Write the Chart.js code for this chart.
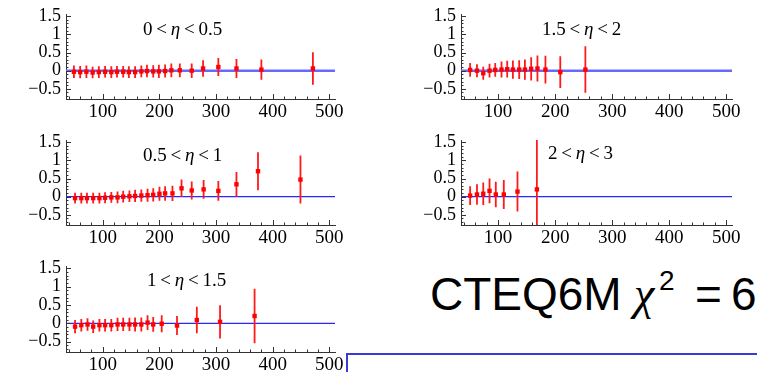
<!DOCTYPE html>
<html lang="en">
<head>
<meta charset="UTF-8" />
<title>Data / theory in rapidity bins, CTEQ6M</title>
<script src="https://cdn.jsdelivr.net/npm/chart.js@4.4.0/dist/chart.umd.min.js"></script>
<style>
  body {
    margin: 0;
    width: 757px;
    height: 372px;
    overflow: hidden;
    background: #fff;
    position: relative;
    font-family: "Liberation Serif", serif;
  }
  .panel { position: absolute; }
  .tag {
    position: absolute;
    font-size: 19px;
    line-height: 19px;
    color: #000;
    white-space: nowrap;
  }
  .big {
    position: absolute;
    top: 271px;
    font-family: "Liberation Sans", Arial, sans-serif;
    font-size: 46px;
    line-height: 46px;
    white-space: nowrap;
    color: #000;
  }
  .rule { position: absolute; background: #3a3ad8; z-index: 2; }
</style>
</head>
<body>
<canvas class="panel" id="c1" width="360" height="122" style="left:0;top:0"></canvas>
<canvas class="panel" id="c2" width="362" height="122" style="left:395px;top:0"></canvas>
<canvas class="panel" id="c3" width="360" height="122" style="left:0;top:126px"></canvas>
<canvas class="panel" id="c4" width="362" height="122" style="left:395px;top:126px"></canvas>
<canvas class="panel" id="c5" width="360" height="120" style="left:0;top:252px"></canvas>

<div class="tag" style="left:143px;top:19px">0&thinsp;&lt;&thinsp;<i>η</i>&thinsp;&lt;&thinsp;0.5</div>
<div class="tag" style="left:542px;top:19px">1.5&thinsp;&lt;&thinsp;<i>η</i>&thinsp;&lt;&thinsp;2</div>
<div class="tag" style="left:143px;top:145px">0.5&thinsp;&lt;&thinsp;<i>η</i>&thinsp;&lt;&thinsp;1</div>
<div class="tag" style="left:548px;top:143px">2&thinsp;&lt;&thinsp;<i>η</i>&thinsp;&lt;&thinsp;3</div>
<div class="tag" style="left:147px;top:270px">1&thinsp;&lt;&thinsp;<i>η</i>&thinsp;&lt;&thinsp;1.5</div>

<div class="big" style="left:430px">CTEQ6M</div>
<div class="big" style="left:634px;font-family:'Liberation Serif',serif;font-style:italic">χ</div>
<div class="big" style="left:659px;top:267px;font-size:28px;line-height:28px">2</div>
<div class="big" style="left:695px">=</div>
<div class="big" style="left:731px">6</div>
<div class="rule" style="left:346px;top:353px;width:411px;height:2px"></div>
<div class="rule" style="left:346px;top:353px;width:2px;height:19px"></div>

<script>
// axis ranges and tick labels
const xMin = 35, xMax = 510;
const yMin = -0.78, yMax = 1.56;
const xTicks = [100, 200, 300, 400, 500];
const yTicks = [-0.5, 0, 0.5, 1, 1.5];

// 0 < eta < 0.5
const pt1 = [49, 60, 71, 82, 93, 104, 115, 125, 136, 146, 157, 168, 178, 189, 199, 210, 221, 236, 257, 277, 304, 336, 380, 471];
const ratio1 = [-0.03, -0.04, -0.03, -0.05, -0.04, -0.03, -0.04, -0.03, -0.03, -0.04, -0.04, -0.02, -0.01, -0.02, -0.02, -0.01, 0.01, 0.01, 0.0, 0.06, 0.1, 0.06, 0.03, 0.06];
const err1 = [0.17, 0.17, 0.17, 0.16, 0.16, 0.16, 0.16, 0.16, 0.16, 0.16, 0.16, 0.16, 0.17, 0.17, 0.18, 0.18, 0.19, 0.19, 0.2, 0.23, 0.25, 0.26, 0.28, 0.45];

// 1.5 < eta < 2
const pt2 = [51, 63, 74, 85, 95, 106, 116, 126, 137, 147, 158, 169, 183, 209, 253];
const ratio2 = [0.02, 0.0, -0.07, 0.0, 0.02, 0.03, 0.04, 0.03, 0.03, 0.03, 0.05, 0.06, 0.03, -0.04, 0.03];
const err2 = [0.19, 0.18, 0.18, 0.19, 0.19, 0.22, 0.23, 0.25, 0.26, 0.28, 0.32, 0.36, 0.38, 0.44, 0.64];

// 0.5 < eta < 1
const pt3 = [51, 62, 72, 83, 94, 104, 115, 126, 136, 147, 157, 168, 179, 189, 200, 210, 223, 239, 257, 278, 304, 336, 374, 449];
const ratio3 = [-0.04, -0.04, -0.04, -0.04, -0.04, -0.03, -0.02, -0.02, 0.0, 0.01, 0.02, 0.03, 0.04, 0.05, 0.08, 0.09, 0.09, 0.23, 0.17, 0.2, 0.16, 0.34, 0.7, 0.47];
const err3 = [0.15, 0.15, 0.15, 0.15, 0.15, 0.15, 0.15, 0.16, 0.16, 0.16, 0.17, 0.17, 0.18, 0.18, 0.19, 0.2, 0.21, 0.24, 0.25, 0.26, 0.27, 0.34, 0.52, 0.66];

// 2 < eta < 3
const pt4 = [51, 63, 74, 85, 96, 110, 134, 168];
const ratio4 = [0.03, 0.06, 0.08, 0.16, 0.06, 0.06, 0.14, 0.2];
const err4 = [0.26, 0.28, 0.31, 0.34, 0.35, 0.4, 0.55, 1.4];

// 1 < eta < 1.5
const pt5 = [51, 62, 73, 83, 94, 104, 115, 126, 136, 147, 157, 168, 179, 189, 204, 231, 266, 307, 368];
const ratio5 = [-0.09, -0.05, -0.03, -0.09, -0.05, -0.05, -0.05, -0.03, -0.03, -0.03, -0.03, -0.03, 0.02, -0.03, -0.01, -0.06, 0.09, 0.04, 0.2];
const err5 = [0.18, 0.17, 0.17, 0.17, 0.17, 0.17, 0.17, 0.18, 0.18, 0.18, 0.19, 0.19, 0.2, 0.2, 0.23, 0.26, 0.36, 0.45, 0.74];

// vertical error bars, drawn just before the points (so above the zero line)
const errorBars = {
  id: "errorBars",
  beforeDatasetDraw(chart, args) {
    const ds = chart.data.datasets[args.index];
    if (!ds.errors) return;
    const { ctx, chartArea: a, scales: { x, y } } = chart;
    ctx.save();
    ctx.beginPath();
    ctx.rect(a.left, a.top, a.right - a.left, a.bottom - a.top);
    ctx.clip();
    ctx.strokeStyle = "#ff1a1a";
    ctx.lineWidth = 1.8;
    ctx.beginPath();
    ds.data.forEach((p, i) => {
      const px = x.getPixelForValue(p.x);
      ctx.moveTo(px, y.getPixelForValue(p.y - ds.errors[i]));
      ctx.lineTo(px, y.getPixelForValue(p.y + ds.errors[i]));
    });
    ctx.stroke();
    ctx.restore();
  }
};

// small inward ticks like the original frame
const frameTicks = {
  id: "frameTicks",
  afterDraw(chart) {
    const { ctx, chartArea: a, scales: { x, y } } = chart;
    ctx.save();
    ctx.strokeStyle = "#333";
    ctx.lineWidth = 1;
    ctx.beginPath();
    for (let k = -7; k <= 15; k++) {
      const yy = Math.round(y.getPixelForValue(k / 10)) + 0.5;
      const len = k % 5 === 0 ? 5 : 2.5;
      ctx.moveTo(a.left, yy);
      ctx.lineTo(a.left + len, yy);
    }
    for (let v = 40; v <= 500; v += 20) {
      const xx = Math.round(x.getPixelForValue(v)) + 0.5;
      const len = v % 100 === 0 ? 5 : 2.5;
      ctx.moveTo(xx, a.bottom);
      ctx.lineTo(xx, a.bottom - len);
    }
    ctx.stroke();
    ctx.restore();
  }
};

const tickFont = { family: "Liberation Serif", size: 18, lineHeight: 1 };

function makePanel(id, pt, ratio, err, line, pad) {
  new Chart(document.getElementById(id), {
    type: "scatter",
    data: {
      datasets: [
        {
          type: "line",
          data: [{ x: xMin, y: 0 }, { x: xMax, y: 0 }],
          borderColor: line.color,
          borderWidth: line.width,
          pointRadius: 0,
          order: 2
        },
        {
          data: pt.map((v, i) => ({ x: v, y: ratio[i] })),
          errors: err,
          backgroundColor: "#ff0000",
          borderWidth: 0,
          pointStyle: "rect",
          pointRadius: 3.1,
          order: 1
        }
      ]
    },
    options: {
      responsive: false,
      animation: false,
      layout: { padding: { top: pad.top, right: pad.right, left: 0, bottom: 0 } },
      plugins: { legend: { display: false }, tooltip: { enabled: false } },
      scales: {
        x: {
          type: "linear",
          min: xMin,
          max: xMax,
          afterBuildTicks: (s) => { s.ticks = xTicks.map((v) => ({ value: v })); },
          afterFit: (s) => { s.height = pad.bottom; },
          ticks: { color: "#000", font: { family: "Liberation Serif", size: 19 }, padding: 2, autoSkip: false, maxRotation: 0 },
          grid: { display: true, drawOnChartArea: false, drawTicks: false },
          border: { display: true, color: "#333", width: 1 }
        },
        y: {
          min: yMin,
          max: yMax,
          afterBuildTicks: (s) => { s.ticks = yTicks.map((v) => ({ value: v })); },
          afterFit: (s) => { s.width = 66; },
          ticks: {
            color: "#000",
            font: tickFont,
            padding: 5,
            autoSkip: false,
            callback: (v) => (v < 0 ? "\u2212" + Math.abs(v) : String(v))
          },
          grid: { display: true, drawOnChartArea: false, drawTicks: false },
          border: { display: true, color: "#333", width: 1 }
        }
      }
    },
    plugins: [errorBars, frameTicks]
  });
}

const thickLine = { color: "rgb(105,105,255)", width: 2.5 };
const thinLine = { color: "rgb(40,40,255)", width: 1.3 };

makePanel("c1", pt1, ratio1, err1, thickLine, { top: 13, right: 25, bottom: 23 });
makePanel("c2", pt2, ratio2, err2, thickLine, { top: 13, right: 25, bottom: 23 });
makePanel("c3", pt3, ratio3, err3, thinLine, { top: 13, right: 25, bottom: 23 });
makePanel("c4", pt4, ratio4, err4, thinLine, { top: 13, right: 25, bottom: 23 });
makePanel("c5", pt5, ratio5, err5, thinLine, { top: 14, right: 25, bottom: 20 });
</script>
</body>
</html>
